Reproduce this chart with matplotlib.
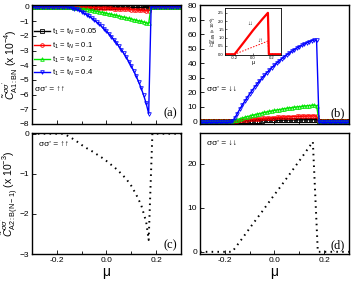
import numpy as np
import matplotlib
matplotlib.use('Agg')
import matplotlib.pyplot as plt
from matplotlib.ticker import MultipleLocator

plt.rcParams['font.family'] = ['Liberation Sans', 'DejaVu Sans']
plt.rcParams['mathtext.fontset'] = 'custom'
plt.rcParams['mathtext.rm'] = 'Liberation Sans'
plt.rcParams['mathtext.it'] = 'Liberation Sans:italic'

# chemical potential grid (step 0.01)
mu = np.round(np.arange(-30, 31) * 0.01, 2)
n_pad = 13   # points outside the active window -0.17 .. 0.17

labels = ['t$_1$ = t$_N$ = 0.05', 't$_1$ = t$_N$ = 0.1',
          't$_1$ = t$_N$ = 0.2', 't$_1$ = t$_N$ = 0.4']
colors = ['black', 'red', '#00e600', 'blue']
markers = ['s', 'o', '^', 'v']

# panel (a): up-up, x 10^-4, values for mu = -0.17 .. 0.17
a_black = [0, -0.00, -0.01, -0.01, -0.01, -0.01, -0.01, -0.01, -0.02, -0.02, -0.02, -0.02,
           -0.02, -0.02, -0.03, -0.03, -0.03, -0.03, -0.03, -0.04, -0.04, -0.04, -0.04, -0.04,
           -0.05, -0.05, -0.05, -0.05, -0.06, -0.06, -0.06, -0.06, -0.07, -0.07, -0.07]
a_red = [0, -0.00, -0.01, -0.01, -0.02, -0.02, -0.03, -0.03, -0.04, -0.05, -0.05, -0.06,
         -0.07, -0.08, -0.08, -0.09, -0.10, -0.11, -0.12, -0.13, -0.14, -0.15, -0.16, -0.17,
         -0.18, -0.19, -0.20, -0.21, -0.22, -0.23, -0.25, -0.26, -0.27, -0.28, -0.30]
a_green = [0, -0.01, -0.03, -0.05, -0.07, -0.10, -0.12, -0.15, -0.18, -0.20, -0.23, -0.27,
           -0.30, -0.33, -0.36, -0.40, -0.43, -0.47, -0.50, -0.54, -0.58, -0.61, -0.65, -0.69,
           -0.73, -0.77, -0.81, -0.85, -0.89, -0.94, -0.98, -1.02, -1.06, -1.11, -1.15]
a_blue = [0, -0.02, -0.05, -0.09, -0.14, -0.20, -0.27, -0.35, -0.45, -0.56, -0.67, -0.79,
          -0.92, -1.06, -1.20, -1.36, -1.52, -1.69, -1.87, -2.06, -2.27, -2.48, -2.71, -2.95,
          -3.20, -3.47, -3.76, -4.07, -4.40, -4.76, -5.15, -5.58, -6.06, -6.60, -7.30]

# panel (b): down-down, x 10^-5
b_black = [0, 0.03, 0.06, 0.09, 0.12, 0.15, 0.18, 0.21, 0.24, 0.27, 0.30, 0.33,
           0.36, 0.39, 0.42, 0.45, 0.48, 0.51, 0.54, 0.57, 0.60, 0.63, 0.66, 0.69,
           0.72, 0.75, 0.78, 0.81, 0.84, 0.87, 0.90, 0.93, 0.96, 0.99, 0.97]
b_red = [0, 0.15, 0.30, 0.45, 0.60, 0.75, 0.90, 1.05, 1.20, 1.35, 1.50, 1.60,
         1.75, 1.85, 2.00, 2.10, 2.20, 2.35, 2.45, 2.55, 2.65, 2.75, 2.85, 2.90,
         3.00, 3.10, 3.15, 3.20, 3.30, 3.35, 3.40, 3.45, 3.50, 3.50, 3.40]
b_green = [0, 0.5, 1.0, 1.5, 2.0, 2.5, 3.0, 3.4, 3.9, 4.3, 4.7, 5.1,
           5.5, 5.9, 6.3, 6.6, 7.0, 7.3, 7.6, 7.9, 8.2, 8.5, 8.8, 9.0,
           9.3, 9.5, 9.7, 9.9, 10.1, 10.3, 10.5, 10.7, 10.8, 10.9, 10.6]
b_blue = [0, 2.0, 5.0, 8.0, 10.8, 13.5, 16.1, 18.6, 21.0, 23.3, 25.5, 27.6,
          29.6, 31.5, 33.4, 35.2, 36.9, 38.5, 40.1, 41.6, 43.0, 44.4, 45.7, 46.9,
          48.1, 49.2, 50.3, 51.3, 52.2, 53.1, 53.9, 54.7, 55.4, 56.0, 55.6]
b_blue_flat = -1.0

# inset of (b)
ins_mu = [-0.30, -0.20, -0.10, 0.00, 0.10, 0.16, 0.17, 0.30]
ins_dd = [0, 0, 0.72, 1.45, 2.12, 2.50, 0, 0]
ins_du = [0, 0, 0.22, 0.44, 0.66, 0.80, 0, 0]

# panel (c): A2:B(N-1), up-up, x 10^-3
c_mu = [-0.30, -0.28, -0.26, -0.24, -0.22, -0.20, -0.18, -0.16, -0.14, -0.12, -0.10, -0.08,
        -0.06, -0.04, -0.02, 0.00, 0.02, 0.04, 0.06, 0.08, 0.10, 0.12, 0.14, 0.16,
        0.17, 0.185, 0.20, 0.22, 0.24, 0.26, 0.28, 0.30]
c_val = [0, 0, 0, 0, 0, 0, 0, -0.04, -0.11, -0.19, -0.28, -0.36,
         -0.43, -0.51, -0.59, -0.68, -0.78, -0.88, -1.00, -1.13, -1.30, -1.52, -1.78, -2.20,
         -2.65, 0, 0, 0, 0, 0, 0, 0]

# panel (d): A2:B(N-1), down-down, x 10^-3
d_mu = [-0.30, -0.17, -0.13, -0.09, -0.05, -0.01, 0.03, 0.07, 0.11, 0.155, 0.175, 0.30]
d_val = [0, 0, 3.0, 6.1, 9.1, 12.2, 15.2, 18.3, 21.4, 25.0, 0, 0]


def pad(vals, flat=0.0):
    return np.r_[np.full(n_pad, flat), vals, np.full(n_pad, flat)]


def style(ax, labelx):
    ax.set_xlim(-0.3, 0.3)
    ax.xaxis.set_major_locator(MultipleLocator(0.2))
    ax.xaxis.set_minor_locator(MultipleLocator(0.1))
    ax.tick_params(which='both', direction='in', labelsize=6, length=2, width=0.6, pad=2)
    ax.tick_params(which='major', length=3)
    if labelx:
        ax.set_xticks([-0.2, 0.0, 0.2])
        ax.set_xticklabels(['-0.2', '0.0', '0.2'])
        ax.set_xlabel('μ', fontsize=10, labelpad=1)
    else:
        ax.tick_params(labelbottom=False)
    for s in ax.spines.values():
        s.set_linewidth(1.0)


fig = plt.figure(figsize=(3.52, 2.81), dpi=100)
ax_a = fig.add_axes([0.091, 0.559, 0.423, 0.423])
ax_b = fig.add_axes([0.568, 0.559, 0.423, 0.423])
ax_c = fig.add_axes([0.091, 0.096, 0.423, 0.431])
ax_d = fig.add_axes([0.568, 0.096, 0.423, 0.431])

serif = ['Liberation Serif', 'DejaVu Serif']

# (a)
for vals, c, m, lab in zip([a_black, a_red, a_green, a_blue], colors, markers, labels):
    ax_a.plot(mu, pad(vals), color=c, marker=m, ms=2.6, mfc='none', mew=0.6, lw=1.0, label=lab)
ax_a.set_ylim(-8, 0.1)
ax_a.yaxis.set_major_locator(MultipleLocator(1))
style(ax_a, False)
ax_a.legend(loc='upper left', bbox_to_anchor=(-0.02, 0.86), fontsize=5.5, frameon=False,
            handlelength=2.0, handletextpad=0.3, labelspacing=0.45, borderpad=0.2)
ax_a.text(-0.29, -5.75, "σσ' = ↑↑", fontsize=6)
ax_a.text(0.285, -7.5, '(a)', fontsize=9, ha='right', family=serif)
ax_a.set_ylabel(r"$\tilde{C}^{\sigma\sigma'}_{\rm A1:BN}$ (x 10$^{-4}$)", fontsize=7.5, labelpad=0)

# (b)
for vals, c, m in zip([b_black, b_red, b_green], colors[:3], markers[:3]):
    ax_b.plot(mu, pad(vals), color=c, marker=m, ms=2.6, mfc='none', mew=0.6, lw=1.0)
ax_b.plot(mu, pad(b_blue, b_blue_flat), color='blue', marker='v', ms=2.6, mfc='none', mew=0.6, lw=1.0)
ax_b.set_ylim(-2, 80)
ax_b.yaxis.set_major_locator(MultipleLocator(10))
style(ax_b, False)
ax_b.text(-0.27, 21, "σσ' = ↓↓", fontsize=6)
ax_b.text(0.285, 3, '(b)', fontsize=9, ha='right', family=serif)

ins = fig.add_axes([0.64, 0.804, 0.158, 0.168])
ins.plot(ins_mu, ins_dd, color='red', lw=1.6)
ins.plot(ins_mu, ins_du, color='red', lw=0.7, ls=(0, (1.5, 1.5)))
ins.set_xlim(-0.3, 0.3)
ins.set_ylim(-0.05, 2.8)
ins.set_xticks([-0.2, 0.0, 0.2])
ins.set_xticklabels(['-0.2', '0.0', '0.2'])
ins.set_yticks([0, 0.5, 1.0, 1.5, 2.0, 2.5])
ins.tick_params(direction='in', labelsize=3.0, length=1.5, width=0.4, pad=1)
for s in ins.spines.values():
    s.set_linewidth(0.6)
ins.set_xlabel('μ', fontsize=4, labelpad=0)
ins.set_ylabel(r"$\tilde{C}^{\sigma\sigma'}_{\rm A1:BN}$ (x 10$^{-4}$)", fontsize=3.2, labelpad=0.5)
ins.text(-0.06, 1.75, '↓↓', fontsize=4)
ins.text(0.05, 0.75, '↓↑', fontsize=4)

# (c)
ax_c.plot(c_mu, c_val, color='black', lw=1.4, ls=(0, (0.8, 2.2)))
ax_c.set_ylim(-3, 0.02)
ax_c.yaxis.set_major_locator(MultipleLocator(1))
style(ax_c, True)
ax_c.text(-0.27, -0.3, "σσ' = ↑↑", fontsize=6)
ax_c.text(0.285, -2.85, '(c)', fontsize=9, ha='right', family=serif)
ax_c.set_ylabel(r"$\tilde{C}^{\sigma\sigma'}_{\rm A2:B(N-1)}$ (x 10$^{-3}$)", fontsize=7.5, labelpad=0)

# (d)
ax_d.plot(d_mu, d_val, color='black', lw=1.4, ls=(0, (0.8, 2.2)))
ax_d.set_ylim(-0.5, 27)
ax_d.yaxis.set_major_locator(MultipleLocator(10))
style(ax_d, True)
ax_d.text(-0.27, 24.3, "σσ' = ↓↓", fontsize=6)
ax_d.text(0.285, 0.8, '(d)', fontsize=9, ha='right', family=serif)

fig.savefig('out.png', dpi=100)
